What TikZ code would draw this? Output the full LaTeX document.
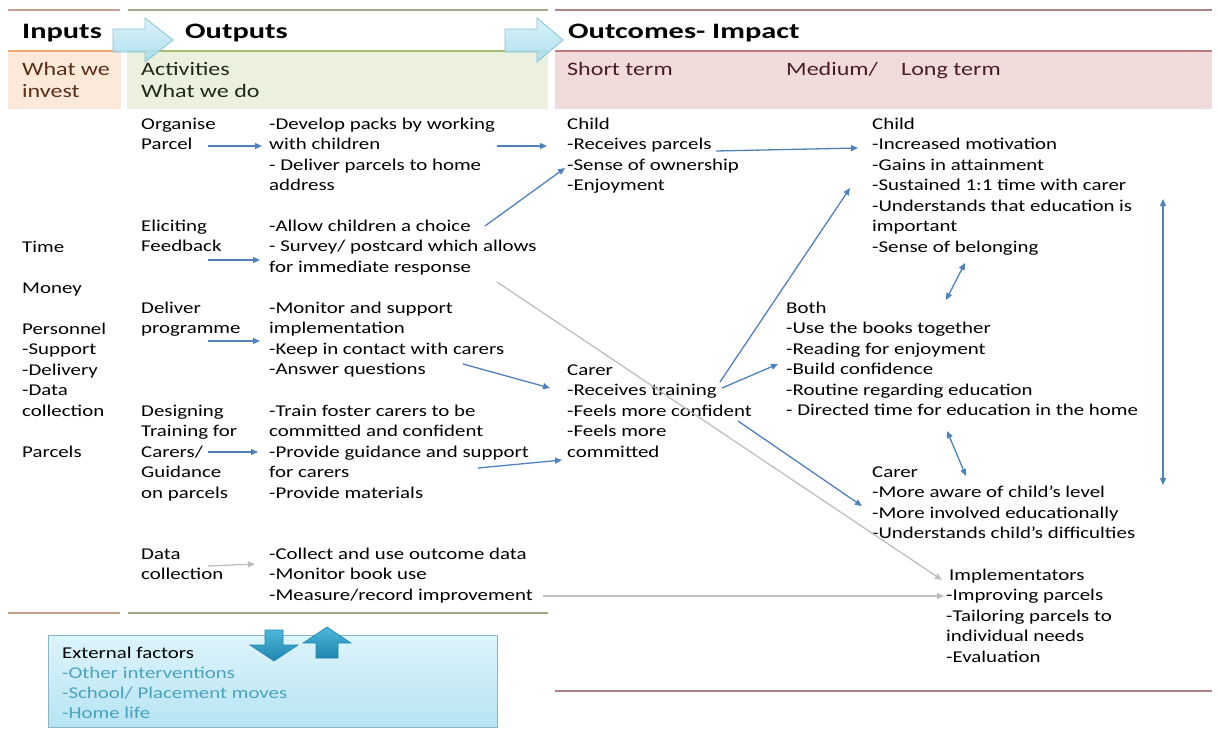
\documentclass[tikz,border=0pt]{standalone}
\usepackage{fontspec}
\setmainfont{Carlito}[FakeStretch=1.265]
\newfontfamily\hdrfont{Carlito}[FakeStretch=1.38]
\usetikzlibrary{arrows.meta}
\definecolor{inline}{HTML}{C4A08A}
\definecolor{inhead}{HTML}{F4A46E}
\definecolor{infill}{HTML}{FDE9D9}
\definecolor{intext}{HTML}{5A2E18}
\definecolor{outline}{HTML}{9EAA8A}
\definecolor{outhead}{HTML}{A5BD72}
\definecolor{outfill}{HTML}{EBF1DE}
\definecolor{outtext}{HTML}{1E2A12}
\definecolor{ocline}{HTML}{AE8284}
\definecolor{ochead}{HTML}{BE7A78}
\definecolor{ocfill}{HTML}{F2DCDB}
\definecolor{octext}{HTML}{4A1E1E}
\definecolor{arblue}{HTML}{4F81BD}
\definecolor{argrey}{HTML}{BFBFBF}
\definecolor{tealtxt}{HTML}{4AA3BE}
\definecolor{cyanA}{HTML}{DDF4FB}
\definecolor{cyanB}{HTML}{B6E4F3}
\definecolor{cyanBorder}{HTML}{86B7C6}
\definecolor{harrowA}{HTML}{D6F1F9}
\definecolor{harrowB}{HTML}{A6DCEC}
\definecolor{harrowBorder}{HTML}{86C3D6}
\definecolor{barrowA}{HTML}{4DB7DA}
\definecolor{barrowB}{HTML}{1F86B0}
\begin{document}
\begin{tikzpicture}[x=1pt,y=-1pt,
  txt/.style={anchor=north west, inner sep=0pt, align=left, font=\fontsize{16.5}{20.5}\selectfont, text=black},
  sub/.style={anchor=north west, inner sep=0pt, align=left, font=\fontsize{19}{22.5}\selectfont},
  hdr/.style={anchor=base west, inner sep=0pt, font=\hdrfont\bfseries\fontsize{22}{25}\selectfont},
  ext/.style={anchor=north west, inner sep=0pt, align=left, font=\fontsize{16.5}{20}\selectfont},
  bl/.style={draw=arblue, line width=1.3pt, -{Triangle[length=7pt,width=6pt]}},
  bld/.style={draw=arblue, line width=1.3pt, {Triangle[length=7pt,width=6pt]}-{Triangle[length=7pt,width=6pt]}},
  gr/.style={draw=argrey, line width=1.3pt, -{Triangle[length=7pt,width=6pt]}},
  rule/.style={line width=2.6pt},
  harrow/.style={top color=harrowA, bottom color=harrowB, draw=harrowBorder, line width=0.8pt, fill opacity=0.9},
  barrow/.style={top color=barrowA, bottom color=barrowB, draw=barrowB, line width=0.6pt}
]
\useasboundingbox (0,0) rectangle (1218,729);

% header fills
\fill[infill] (8,52) rectangle (121,109);
\fill[outfill] (127,52) rectangle (548,109);
\fill[ocfill] (555,52) rectangle (1212,109);

% top rules
\draw[rule, inline] (8,10) -- (120,10);
\draw[rule, outline] (128,10) -- (548,10);
\draw[rule, ocline] (555,10) -- (1212,10);
% rules under headers
\draw[line width=1.8pt, inhead] (8,51) -- (121,51);
\draw[line width=1.8pt, outhead] (127,51) -- (548,51);
\draw[line width=1.8pt, ochead] (555,51) -- (1212,51);
% bottom rules
\draw[rule, inline] (8,613) -- (120,613);
\draw[rule, outline] (128,613) -- (548,613);
\draw[rule, ocline] (555,691) -- (1212,691);

% header titles
\node[hdr] (hin) at (22,38) {Inputs};
\node[hdr] (hout) at (185,38) {Outputs};
\node[hdr] (hoc) at (568,38) {Outcomes- Impact};

% header block arrows
\path[harrow] (113,29) -- (145,29) -- (145,18) -- (173,40) -- (145,62) -- (145,52) -- (113,52) -- cycle;
\path[harrow] (505,29) -- (537,29) -- (537,18) -- (563,40) -- (537,62) -- (537,52) -- (505,52) -- cycle;

% subheaders
\node[sub, text=intext] (sin) at (22,59.3) {\strut What we\\invest};
\node[sub, text=outtext] (sout) at (141,59.3) {\strut Activities\\What we do};
\node[sub, text=octext] (sst) at (567,59.3) {\strut Short term};
\node[sub, text=octext] (smed) at (786,59.3) {\strut Medium/};
\node[sub, text=octext] (slong) at (901,59.3) {\strut Long term};

% inputs
\node[txt] (inputs) at (22,237.65) {\strut Time\\[20.5pt]Money\\[20.5pt]Personnel\\-Support\\-Delivery\\-Data\\collection\\[20.5pt]Parcels};

% activities
\node[txt] (act1) at (141,114.65) {\strut Organise\\Parcel};
\node[txt] (out1) at (269,114.65) {\strut -Develop packs by working\\with children\\- Deliver parcels to home\\address};
\node[txt] (act2) at (141,216.65) {\strut Eliciting\\Feedback};
\node[txt] (out2) at (269,216.65) {\strut -Allow children a choice\\- Survey/ postcard which allows\\for immediate response};
\node[txt] (act3) at (141,298.65) {\strut Deliver\\programme};
\node[txt] (out3) at (269,298.65) {\strut -Monitor and support\\implementation\\-Keep in contact with carers\\-Answer questions};
\node[txt] (act4) at (141,401.65) {\strut Designing\\Training for\\Carers/\\Guidance\\on parcels};
\node[txt] (out4) at (269,401.65) {\strut -Train foster carers to be\\committed and confident\\-Provide guidance and support\\for carers\\-Provide materials};
\node[txt] (act5) at (141,544.65) {\strut Data\\collection};
\node[txt] (out5) at (269,544.65) {\strut -Collect and use outcome data\\-Monitor book use\\-Measure/record improvement};

% short term
\node[txt] (stchild) at (567,114.65) {\strut Child\\-Receives parcels\\-Sense of ownership\\-Enjoyment};
\node[txt] (stcarer) at (567,360.65) {\strut Carer\\-Receives training\\-Feels more confident\\-Feels more\\committed};

% long term
\node[txt] (ltchild) at (872,114.65) {\strut Child\\-Increased motivation\\-Gains in attainment\\-Sustained 1:1 time with carer\\-Understands that education is\\important\\-Sense of belonging};
\node[txt] (ltboth) at (786,298.65) {\strut Both\\-Use the books together\\-Reading for enjoyment\\-Build confidence\\-Routine regarding education\\- Directed time for education in the home};
\node[txt] (ltcarer) at (872,462.65) {\strut Carer\\-More aware of child’s level\\-More involved educationally\\-Understands child’s difficulties};
\node[txt] (impl) at (946,565.65) {\strut \hspace*{3pt}Implementators\\-Improving parcels\\-Tailoring parcels to\\individual needs\\-Evaluation};

% external factors box
\node[draw=cyanBorder, line width=0.8pt, top color=cyanA, bottom color=cyanB, minimum width=449pt, minimum height=92pt, anchor=north west, inner sep=0pt] (extbox) at (48,635) {};
\node[ext] (exttxt) at (62,644) {\strut External factors\\\textcolor{tealtxt}{-Other interventions}\\\textcolor{tealtxt}{-School/ Placement moves}\\\textcolor{tealtxt}{-Home life}};

% bottom block arrows
\path[barrow] (265,630) -- (283,630) -- (283,645) -- (298,645) -- (274,661) -- (250,645) -- (265,645) -- cycle;
\path[barrow] (316,658) -- (338,658) -- (338,643) -- (351,643) -- (327,627) -- (303,643) -- (316,643) -- cycle;

% connector end points
\coordinate (a1s) at (208,146); \coordinate (a1e) at (262,146);
\coordinate (a2s) at (497,146); \coordinate (a2e) at (547,146);
\coordinate (a3s) at (485,226); \coordinate (a3e) at (565,168);
\coordinate (a4s) at (208,260); \coordinate (a4e) at (260,260);
\coordinate (a5s) at (208,341); \coordinate (a5e) at (260,341);
\coordinate (a6s) at (463,364); \coordinate (a6e) at (550,388);
\coordinate (a7s) at (208,452); \coordinate (a7e) at (258,452);
\coordinate (a8s) at (478,468); \coordinate (a8e) at (562,460);
\coordinate (a9s) at (716,151); \coordinate (a9e) at (858,148);
\coordinate (a10s) at (720,382); \coordinate (a10e) at (850,188);
\coordinate (a11s) at (722,388); \coordinate (a11e) at (778,364);
\coordinate (a12s) at (738,421); \coordinate (a12e) at (862,506);
\coordinate (d1s) at (965,263); \coordinate (d1e) at (946,300);
\coordinate (d2s) at (947,431); \coordinate (d2e) at (966,476);
\coordinate (d3s) at (1163,199); \coordinate (d3e) at (1163,485);
\coordinate (g1s) at (208,566); \coordinate (g1e) at (255,564);
\coordinate (g2s) at (543,596); \coordinate (g2e) at (944,596);
\coordinate (g3s) at (497,282); \coordinate (g3e) at (942,580);

\draw[gr] (g3s) -- (g3e);
\draw[gr] (g1s) -- (g1e);
\draw[gr] (g2s) -- (g2e);
\draw[bl] (a1s) -- (a1e);
\draw[bl] (a2s) -- (a2e);
\draw[bl] (a3s) -- (a3e);
\draw[bl] (a4s) -- (a4e);
\draw[bl] (a5s) -- (a5e);
\draw[bl] (a6s) -- (a6e);
\draw[bl] (a7s) -- (a7e);
\draw[bl] (a8s) -- (a8e);
\draw[bl] (a9s) -- (a9e);
\draw[bl] (a10s) -- (a10e);
\draw[bl] (a11s) -- (a11e);
\draw[bl] (a12s) -- (a12e);
\draw[bld] (d1s) -- (d1e);
\draw[bld] (d2s) -- (d2e);
\draw[bld] (d3s) -- (d3e);
\end{tikzpicture}
\end{document}
